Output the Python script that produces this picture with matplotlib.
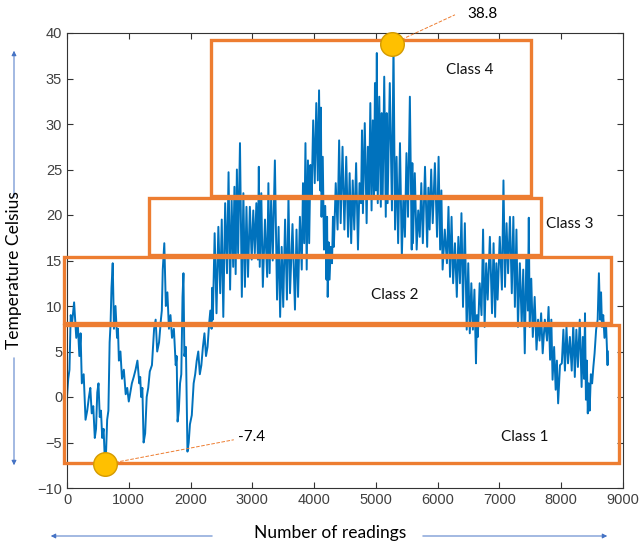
import matplotlib
matplotlib.use("Agg")
import matplotlib.pyplot as plt
from matplotlib.patches import Rectangle

# --- readings (position, daily low, daily high) ---
positions = [
    0, 40, 80, 150, 200, 240, 300, 355, 400, 450, 490, 530, 570, 615, 650,
    690, 720, 760, 810, 840, 890, 950, 1000, 1050, 1110, 1170, 1200, 1240,
    1290, 1340, 1410, 1460, 1520, 1550, 1600, 1650, 1700, 1760, 1790, 1830,
    1870, 1900, 1950, 1990, 2050, 2100, 2150, 2200, 2250, 2300, 2340,
    2360, 2420, 2480, 2530, 2590, 2640, 2690, 2730, 2770, 2830, 2880, 2930,
    2990, 3040, 3090, 3120, 3170, 3240, 3280, 3330, 3400, 3450, 3500, 3560,
    3610, 3690, 3740, 3800, 3840, 3880, 3920, 3960, 4010, 4060, 4100, 4120,
    4160, 4200, 4220, 4250, 4290, 4320, 4380, 4430, 4490, 4550, 4600, 4650,
    4710, 4760, 4790, 4850, 4890, 4930, 4970, 5000, 5030, 5080, 5110, 5160,
    5190, 5260, 5310, 5360, 5420, 5470, 5520, 5580, 5600, 5660, 5710, 5760,
    5830, 5870, 5920, 5990, 6040, 6080, 6150, 6200, 6250, 6310, 6360, 6410,
    6470, 6520, 6570, 6620, 6650, 6710, 6760, 6810, 6880, 6930, 6970, 7040,
    7090, 7140, 7200, 7250, 7300, 7360, 7410, 7460, 7490, 7540, 7600, 7650,
    7700, 7770, 7820, 7860, 7910, 7950, 8010, 8060, 8110, 8170, 8220, 8270,
    8330, 8370, 8400, 8430, 8460, 8500, 8540, 8590, 8630, 8660, 8700, 8750,
]
temp_low = [
    0, 3, 8, 6.5, 4.5, 1.5, -2.5, 0, -1.8, -4.5, 0.5, -2.2, -4.5, -7.4, -2.5,
    6, 12, 7.5, 6.5, 4, 2, 0.3, -0.5, 1.5, 3, 1.5, 0, -5,
    0, 2.8, 7.5, 5, 8.5, 14, 10, 7.5, 6.5, 3.5, -2.7, 1.5,
    11, 4.5, -6, -3, 1.5, 4, 2.5, 5.5, 4.5, 8, 7.5,
    8.5, 9.2, 11.4, 8.8, 13.6, 11.8, 14.3, 13.5, 15.8, 11, 12.1, 13.2,
    15.1, 15.8, 15.1, 14.3, 12.1, 13.2, 13.6, 15, 10.7, 8.8, 9.9, 10.7,
    11.4, 9.6, 11, 14, 16.9, 14, 16.9, 22, 23.5, 23.8, 22.7, 19.8,
    16.2, 12.9, 11, 12.9, 14.7, 16.5, 18.4, 19.1, 18.4, 17.6, 16.9, 18.4,
    16.2, 21.3, 20.2, 19.1, 22, 20.5, 22, 22.7, 21.3, 20.9, 22, 19.8,
    21.3, 20.5, 18.4, 16.9, 15.4, 17.6, 19.8, 16.2, 16.9, 16.2, 17.6, 16.9,
    16.5, 18.4, 19.1, 17.6, 16.2, 14, 14.7, 13.2, 12.5, 11, 12.5, 9.9,
    7.4, 7, 7.4, 3.7, 6.6, 9, 7.7, 10.7, 9.2, 8.8, 10.7, 11.8,
    12.1, 13.6, 11.4, 9.9, 7.7, 8, 4.8, 9.5, 7.7, 6.6, 5.2, 6.2,
    4.8, 6.2, 4.1, 1.9, 0.8, -0.7, 3.7, 2.9, 3.7, 2.9, 2.2, 3.3,
    1.1, 2, -0.3, -1.8, -1.5, 1.5, 4.8, 8.5, 8.5, 7.7, 6.5, 3.5,
]
temp_high = [
    2, 9, 10.4, 8, 7, 2.5, -1.5, 1, -1, -3.5, 1.5, -1.5, -3.5, -6, -1.5,
    8, 14.7, 10, 7.5, 5, 3, 1, 0.5, 2.2, 4, 2.2, 1, -4,
    1, 3.5, 8.5, 6, 9.5, 16.9, 11.5, 9, 7.5, 4.5, -1.5, 2.5,
    13.6, 5.5, -5, -2, 2.5, 5, 3.5, 7, 5.5, 9.5, 12,
    18, 18.7, 19.5, 21.3, 24.7, 21.6, 23.1, 25, 27.9, 22.4, 20.9, 20.9,
    20.5, 21.3, 25.3, 22.4, 19.5, 23.5, 22, 26, 18.7, 16.5, 19.5, 22,
    19, 18.4, 19.8, 23.5, 27.9, 26, 25.5, 30.4, 32.3, 33.7, 31.8, 26.4,
    21, 19.8, 17, 16.5, 19.8, 23.5, 28.2, 27.5, 26.4, 24.6, 23.8, 25.7,
    23.5, 29.3, 30.1, 27.5, 32.3, 30.4, 34.5, 37.8, 33, 31.2, 35.2, 31.2,
    34.5, 38.8, 26.4, 27.9, 22, 26.8, 33, 25.7, 24.6, 20.5, 23.5, 25.3,
    23, 25, 25.7, 26.4, 22.7, 18.4, 20.9, 19.8, 16.9, 17.6, 20.2, 19.1,
    14.7, 12.5, 11.8, 9, 12.5, 18.4, 14.7, 17.6, 16.9, 14.7, 17.6, 23.8,
    19.1, 19.8, 19.8, 18.4, 14.7, 14, 15.5, 19.7, 13, 11, 8.5, 9.2,
    8.5, 9.9, 8.5, 5.5, 4, 3.5, 7.4, 7.7, 6.6, 8.1, 7.4, 8.5,
    6.6, 9.2, 4, 1.5, 2.5, 3.3, 7.4, 13.6, 11.5, 9.0, 8.1, 5,
]

# class boxes: (x0, x1, y0, y1)
class_names = ["Class 1", "Class 2", "Class 3", "Class 4"]
class_x = [(-50, 8930), (-50, 8800), (1330, 7670), (2330, 7510)]
class_y = [(-7.3, 7.9), (8.1, 15.4), (15.6, 21.9), (22.1, 39.2)]
label_pos = [(7410, -4.4), (5300, 11.2), (8140, 19.0), (6520, 35.9)]

# extremes
max_pt = (5260, 38.8)
min_pt = (615, -7.4)


def main():
    # zigzag low/high to draw the daily swing
    xs, ys = [], []
    for i, p in enumerate(positions):
        step = (positions[i + 1] - p) if i + 1 < len(positions) else 10
        xs += [p, p + step / 2]
        ys += [temp_low[i], temp_high[i]]

    fig = plt.figure(figsize=(6.42, 5.44), dpi=100)
    ax = fig.add_axes([67 / 642, 1 - 488 / 544, 556 / 642, 455 / 544])

    ax.plot(xs, ys, color="#0072BD", linewidth=1.4, zorder=2)

    orange = "#ED7D31"
    for (x0, x1), (y0, y1) in zip(class_x, class_y):
        ax.add_patch(Rectangle((x0, y0), x1 - x0, y1 - y0, fill=False,
                               edgecolor=orange, linewidth=2.4,
                               clip_on=False, zorder=3))
    for name, (lx, ly) in zip(class_names, label_pos):
        ax.text(lx, ly, name, ha="center", va="center", fontsize=11,
                family="Lato", color="#111111", zorder=4)

    # extreme markers with dashed leader lines
    ax.plot([max_pt[0], 6280], [max_pt[1], 42.0], ls="--", lw=0.7,
            color=orange, clip_on=False, zorder=4)
    ax.plot([min_pt[0], 2700], [min_pt[1], -4.7], ls="--", lw=0.7,
            color=orange, clip_on=False, zorder=4)
    for pt in (max_pt, min_pt):
        ax.plot(*pt, "o", ms=17, mfc="#FFC000", mec="#D49A00", mew=1,
                clip_on=False, zorder=5)
    ax.text(6480, 42.1, f"{max_pt[1]}", fontsize=11, va="center",
            family="Lato", clip_on=False)
    ax.text(2760, -4.4, f"{min_pt[1]}", fontsize=11, va="center",
            family="Lato")

    ax.set_xlim(0, 9000)
    ax.set_ylim(-10, 40)
    ax.set_xticks(range(0, 9001, 1000))
    ax.set_yticks(range(-10, 41, 5))
    ax.tick_params(direction="in", top=True, right=True, length=4,
                   labelsize=10.5, labelcolor="#404040", color="#333333")
    for lab in ax.get_xticklabels() + ax.get_yticklabels():
        lab.set_family("Liberation Sans")
    for s in ax.spines.values():
        s.set_color("#333333")
        s.set_linewidth(0.8)

    fig.text(330 / 642, 1 - 533 / 544, "Number of readings", ha="center",
             va="center", fontsize=12.5, family="Lato")
    fig.text(14 / 642, 1 - 270 / 544, "Temperature Celsius", ha="center",
             va="center", rotation=90, fontsize=12.5, family="Lato")

    # blue guide arrows around the axis labels
    arrows = [((215, 536), (48, 536)), ((420, 536), (610, 536)),
              ((14, 200), (14, 48)), ((14, 355), (14, 468))]
    for (x0, y0), (x1, y1) in arrows:
        fig.add_artist(matplotlib.patches.FancyArrowPatch(
            (x0 / 642, 1 - y0 / 544), (x1 / 642, 1 - y1 / 544),
            transform=fig.transFigure, arrowstyle="-|>", mutation_scale=7,
            color="#4472C4", lw=0.7))

    fig.savefig("out.png", dpi=100)
    plt.close(fig)


if __name__ == "__main__":
    main()
